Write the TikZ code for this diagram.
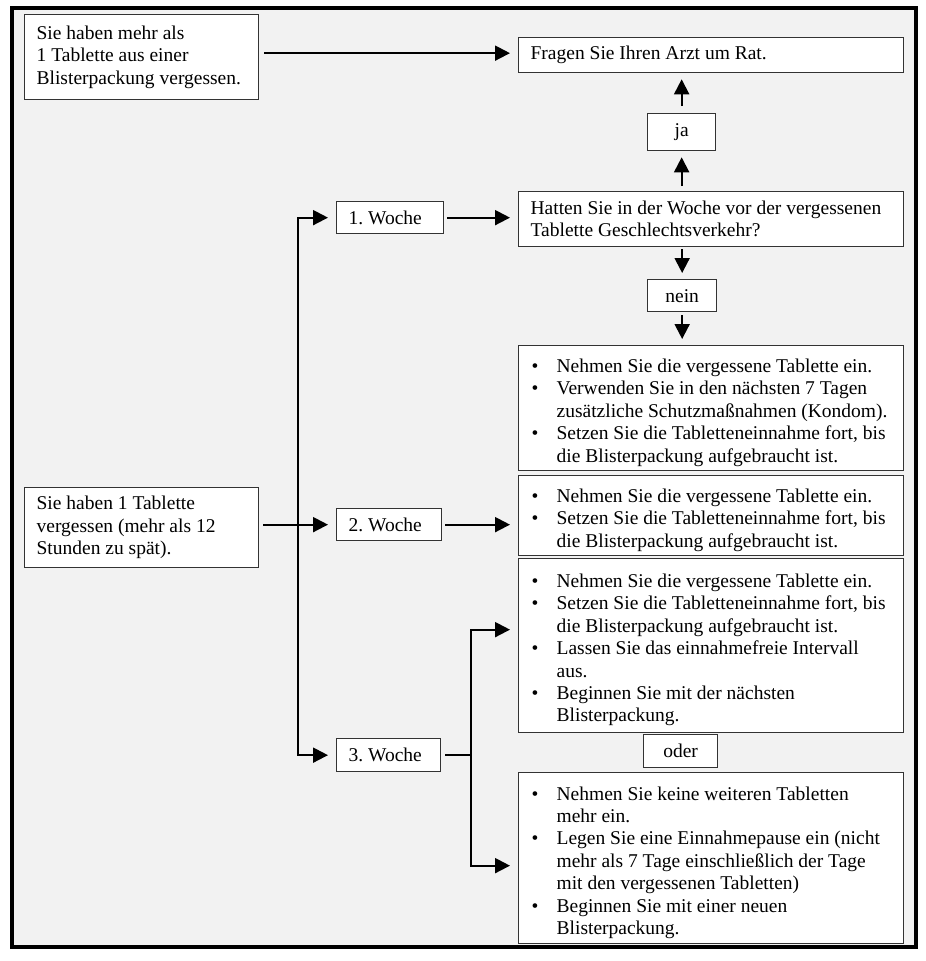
\documentclass[tikz,border=0pt]{standalone}
\usepackage{fontspec}
\setmainfont{Liberation Serif}
\usetikzlibrary{arrows.meta}

\frenchspacing
\newcommand{\punkt}[1]{\par\noindent\hangindent=34pt\hangafter=1\makebox[34pt][l]{\hspace{9pt}\textbullet}#1\par}

\begin{document}
\begin{tikzpicture}[x=1pt,y=-1pt,>={Triangle[length=15pt,width=15pt]},
kasten/.style={draw=black!80,line width=1.3pt,fill=white,anchor=north west,
  inner xsep=12pt,inner ysep=0pt,align=flush left,font=\fontsize{19.5pt}{22.4pt}\selectfont},
liste/.style={kasten,inner xsep=4pt,text width=377pt,minimum height=#1},
antwort/.style={kasten,align=center,inner sep=0pt},
pfeil/.style={->,line width=2pt,shorten >=8pt}]
\useasboundingbox (0,0) rectangle (926,961);
\draw[line width=4pt,fill=black!5] (12,8) rectangle (916,947);

% linke Spalte
\node[kasten,text width=210pt,minimum height=85pt] (mehr) at (24,14)
  {Sie haben mehr als\\1 Tablette aus einer\\Blisterpackung vergessen.};
\node[kasten,text width=210pt,minimum height=80pt] (vergessen) at (24,487)
  {Sie haben 1 Tablette\\vergessen (mehr als 12\\Stunden zu spät).};
\node[kasten,text width=83pt,minimum height=32pt] (woche1) at (336,201) {1. Woche};
\node[kasten,text width=81pt,minimum height=32pt] (woche2) at (336,508) {2. Woche};
\node[kasten,text width=80pt,minimum height=33pt] (woche3) at (336,738) {3. Woche};

% rechte Spalte
\node[kasten,text width=361pt,minimum height=35pt] (arzt) at (518,37)
  {Fragen Sie Ihren Arzt um Rat.};
\node[antwort,minimum width=68pt,minimum height=37pt] (ja) at (647,113) {ja};
\node[kasten,text width=361pt,minimum height=55pt] (frage) at (518,191)
  {Hatten Sie in der Woche vor der vergessenen\\Tablette Geschlechtsverkehr?};
\node[antwort,minimum width=69pt,minimum height=32pt] (nein) at (647,279) {nein};
\node[liste=125pt] (rat1) at (518,345)
  {\punkt{Nehmen Sie die vergessene Tablette ein.}%
   \punkt{Verwenden Sie in den nächsten 7 Tagen\newline zusätzliche Schutzmaßnahmen (Kondom).}%
   \punkt{Setzen Sie die Tabletteneinnahme fort, bis\newline die Blisterpackung aufgebraucht ist.}};
\node[liste=80pt] (rat2) at (518,475)
  {\punkt{Nehmen Sie die vergessene Tablette ein.}%
   \punkt{Setzen Sie die Tabletteneinnahme fort, bis\newline die Blisterpackung aufgebraucht ist.}};
\node[liste=174pt] (rat3) at (518,558)
  {\punkt{Nehmen Sie die vergessene Tablette ein.}%
   \punkt{Setzen Sie die Tabletteneinnahme fort, bis\newline die Blisterpackung aufgebraucht ist.}%
   \punkt{Lassen Sie das einnahmefreie Intervall\newline aus.}%
   \punkt{Beginnen Sie mit der nächsten\newline Blisterpackung.}};
\node[antwort,minimum width=74pt,minimum height=33pt] (oder) at (643,734) {oder};
\node[liste=171pt] (rat4) at (518,772)
  {\punkt{Nehmen Sie keine weiteren Tabletten\newline mehr ein.}%
   \punkt{Legen Sie eine Einnahmepause ein (nicht\newline mehr als 7 Tage einschließlich der Tage\newline mit den vergessenen Tabletten)}%
   \punkt{Beginnen Sie mit einer neuen\newline Blisterpackung.}};

% Pfeile
\draw[pfeil,shorten <=5pt] ([yshift=4pt]mehr.east) -- ([yshift=2pt]arzt.west);
\draw[pfeil,shorten >=6pt,shorten <=5pt] (ja.south |- frage.north) -- (ja.south);
\draw[pfeil,shorten >=6pt,shorten <=7pt] (ja.north) -- (ja.north |- arzt.south);
\draw[pfeil,shorten >=6pt,shorten <=2pt] (nein.north |- frage.south) -- (nein.north);
\draw[pfeil,shorten >=6pt,shorten <=3pt] (nein.south) -- (nein.south |- rat1.north);
\draw[pfeil,shorten <=3pt] (woche1.east) -- (woche1.east -| frage.west);
\draw[pfeil,shorten <=4pt] (vergessen.east |- woche2.west) -- (woche2.west);
\coordinate (stamm) at (298,524);
\draw[pfeil] (stamm) |- (woche1.west);
\draw[pfeil] (stamm) |- (woche3.west);
\draw[pfeil,shorten <=3pt] (woche2.east) -- (woche2.east -| rat2.west);
\path (woche3.east) ++(30,0) coordinate (gabel);
\draw[line width=2pt,shorten <=4pt] (woche3.east) -- (gabel);
\draw[pfeil] (gabel) |- ([yshift=16pt]rat3.west);
\draw[pfeil] (gabel) |- ([yshift=-7.5pt]rat4.west);
\end{tikzpicture}
\end{document}
